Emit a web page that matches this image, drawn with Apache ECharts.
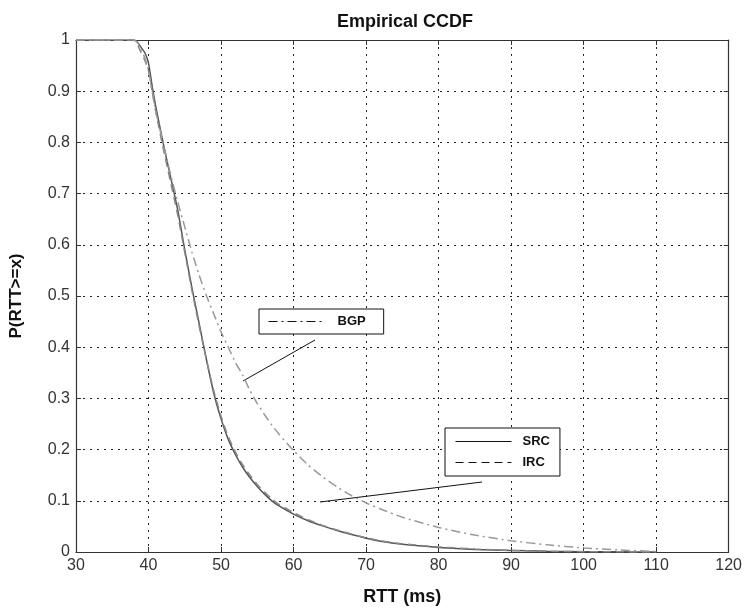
<!DOCTYPE html>
<html>
<head>
<meta charset="utf-8">
<title>Empirical CCDF</title>
<script src="https://cdn.jsdelivr.net/npm/echarts@6/dist/echarts.min.js"></script>
<style>
  html, body { margin: 0; padding: 0; background: #fff; }
  #main { width: 745px; height: 611px; }
</style>
</head>
<body>
<div id="main"></div>
<script>
// RTT values (ms) shared by all three curves
const rtt = [30, 35, 38, 38.5, 39, 39.5, 40, 40.5, 41,
  42, 43, 44, 45, 46, 47, 48, 49, 50, 51, 52, 53, 54, 55, 56, 57, 58,
  60, 62, 64, 66, 68, 70, 72,
  75, 80, 85, 90, 95, 100, 105, 110];

const src = [1, 1, 1, 0.995, 0.985, 0.975, 0.955, 0.91, 0.87,
  0.80, 0.735, 0.67, 0.59, 0.515, 0.445, 0.375, 0.31, 0.26, 0.22, 0.19, 0.165, 0.145, 0.128, 0.113, 0.1, 0.09,
  0.074, 0.061, 0.051, 0.042, 0.034, 0.027, 0.021,
  0.015, 0.009, 0.005, 0.003, 0.0015, 0.0007, 0.0003, 0];

const irc = [1, 1, 1, 0.99, 0.975, 0.96, 0.94, 0.9, 0.86,
  0.79, 0.725, 0.66, 0.585, 0.51, 0.44, 0.375, 0.315, 0.265, 0.225, 0.195, 0.17, 0.15, 0.132, 0.117, 0.104, 0.093,
  0.077, 0.063, 0.052, 0.043, 0.035, 0.028, 0.022,
  0.016, 0.01, 0.006, 0.003, 0.0015, 0.0007, 0.0003, 0];

const bgp = [1, 1, 1, 0.995, 0.98, 0.965, 0.94, 0.9, 0.86,
  0.80, 0.74, 0.685, 0.635, 0.585, 0.54, 0.50, 0.465, 0.43, 0.40, 0.37, 0.345, 0.315, 0.29, 0.268, 0.248, 0.23,
  0.198, 0.17, 0.147, 0.127, 0.11, 0.096, 0.084,
  0.068, 0.048, 0.033, 0.022, 0.014, 0.008, 0.004, 0.001];

const xTicks = { min: 30, max: 120, step: 10 };
const yTicks = { min: 0, max: 1, step: 0.1 };

const FONT = "'Liberation Sans', Arial, Helvetica, sans-serif";

function pairs(ys) {
  return rtt.map((x, i) => [x, ys[i]]);
}

const chart = echarts.init(document.getElementById("main"));

const gridDots = { show: true, lineStyle: { color: "#222", width: 1, type: [2, 5] } };
const frame = { show: true, onZero: false, lineStyle: { color: "#333", width: 1.2 } };
const tickIn = { show: true, inside: true, length: 5, lineStyle: { color: "#333" } };
// legend samples: black line only, hide the marker dot
const legendLine = { color: "#111", width: 1 };
const noDot = { color: "rgba(0,0,0,0)", borderWidth: 0, opacity: 0 };

let option = {
  backgroundColor: "#fff",
  animation: false,
  textStyle: { fontFamily: FONT },
  title: {
    text: "Empirical CCDF",
    left: 400,
    textAlign: "center",
    top: 8,
    textStyle: { fontFamily: FONT, fontSize: 18, fontWeight: "bold", color: "#111" }
  },
  grid: { left: 71, right: 15, top: 40, bottom: 52 },
  xAxis: [
    {
      type: "value",
      min: xTicks.min, max: xTicks.max, interval: xTicks.step,
      name: "RTT (ms)",
      nameLocation: "middle",
      nameGap: 36,
      nameTextStyle: { fontFamily: FONT, fontSize: 18, fontWeight: "bold", color: "#111" },
      axisLine: frame,
      axisTick: tickIn,
      axisLabel: { fontFamily: FONT, fontSize: 16, color: "#333", margin: 6 },
      splitLine: gridDots
    },
    {
      type: "value", position: "top",
      min: xTicks.min, max: xTicks.max, interval: xTicks.step,
      axisLine: frame, axisTick: tickIn,
      axisLabel: { show: false }, splitLine: { show: false }
    }
  ],
  yAxis: [
    {
      type: "value",
      min: yTicks.min, max: yTicks.max, interval: yTicks.step,
      name: "P(RTT>=x)",
      nameLocation: "middle",
      nameGap: 51,
      nameRotate: 90,
      nameTextStyle: { fontFamily: FONT, fontSize: 17, fontWeight: "bold", color: "#111" },
      axisLine: frame,
      axisTick: tickIn,
      axisLabel: { fontFamily: FONT, fontSize: 16, color: "#333", margin: 6 },
      splitLine: gridDots
    },
    {
      type: "value", position: "right",
      min: yTicks.min, max: yTicks.max, interval: yTicks.step,
      axisLine: frame, axisTick: tickIn,
      axisLabel: { show: false }, splitLine: { show: false }
    }
  ],
  legend: [
    {
      data: ["BGP"],
      left: 259, top: 309,
      padding: [6, 18, 6, 9],
      borderColor: "#111", borderWidth: 1,
      backgroundColor: "#fff",
      itemWidth: 55, itemHeight: 14,
      selectedMode: false,
      itemStyle: noDot,
      lineStyle: legendLine,
      textStyle: { fontFamily: FONT, fontSize: 13, fontWeight: "bold", color: "#111", padding: [0, 0, 0, 9] }
    },
    {
      data: ["SRC", "IRC"],
      orient: "vertical",
      left: 445, top: 428,
      padding: [7, 10, 7, 10],
      itemGap: 8,
      borderColor: "#111", borderWidth: 1,
      backgroundColor: "#fff",
      itemWidth: 56, itemHeight: 14,
      selectedMode: false,
      itemStyle: noDot,
      lineStyle: legendLine,
      textStyle: { fontFamily: FONT, fontSize: 13, fontWeight: "bold", color: "#111", padding: [0, 0, 0, 6] }
    }
  ],
  graphic: [
    { type: "line", shape: { x1: 315, y1: 340, x2: 243, y2: 381 }, style: { stroke: "#111", lineWidth: 1 } },
    { type: "line", shape: { x1: 482, y1: 482, x2: 320, y2: 502 }, style: { stroke: "#111", lineWidth: 1 } }
  ],
  series: [
    {
      name: "SRC", type: "line", data: pairs(src),
      symbol: "none", smooth: 0.2,
      lineStyle: { color: "#555", width: 1.5, type: "solid" }
    },
    {
      name: "IRC", type: "line", data: pairs(irc),
      symbol: "none", smooth: 0.2,
      lineStyle: { color: "#888", width: 1.5, type: [8, 5] }
    },
    {
      name: "BGP", type: "line", data: pairs(bgp),
      symbol: "none", smooth: 0.2,
      lineStyle: { color: "#999", width: 1.5, type: [9, 4, 2, 4] }
    }
  ]
};

chart.setOption(option);
</script>
</body>
</html>
